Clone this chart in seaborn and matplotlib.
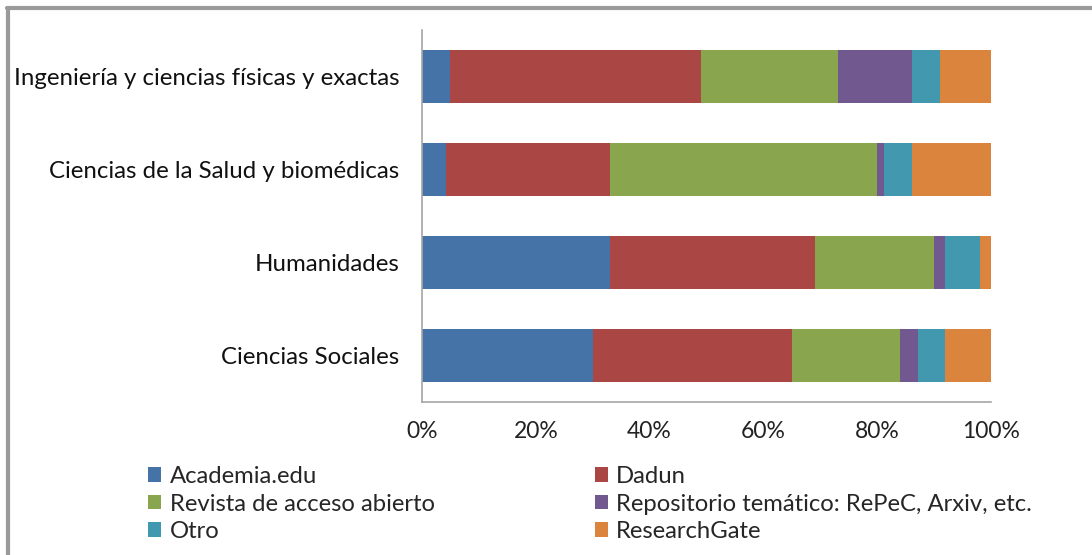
import matplotlib.pyplot as plt
import pandas as pd
import seaborn as sns
from matplotlib.patches import Patch
from matplotlib.ticker import PercentFormatter

areas = [
    "Ingeniería y ciencias físicas y exactas",
    "Ciencias de la Salud y biomédicas",
    "Humanidades",
    "Ciencias Sociales",
]
series = [
    "Academia.edu",
    "Dadun",
    "Revista de acceso abierto",
    "Repositorio temático: RePeC, Arxiv, etc.",
    "Otro",
    "ResearchGate",
]
academia = [5.0, 4.2, 33.1, 30.1]
dadun = [44.1, 28.9, 36.0, 35.0]
revista = [24.0, 46.9, 20.9, 18.9]
repositorio = [13.0, 1.2, 2.0, 3.1]
otro = [4.9, 4.9, 6.1, 4.9]
researchgate = [9.0, 13.9, 1.9, 8.0]
colors = ["#4572A7", "#AA4643", "#89A54E", "#71588F", "#4198AF", "#DB843D"]

df = pd.DataFrame(
    dict(zip(series, [academia, dadun, revista, repositorio, otro, researchgate])),
    index=areas,
)
cum = df.cumsum(axis=1)

sns.set_style("white")
plt.rcParams["font.family"] = ["Lato", "DejaVu Sans"]

fig = plt.figure(figsize=(10.92, 5.55), dpi=100)
ax = fig.add_axes([0.3864, 0.2757, 0.5211, 0.6703])

# draw cumulative totals from last to first so each segment shows
for name, col in reversed(list(zip(series, colors))):
    sns.barplot(
        x=cum[name].values, y=areas, orient="h", color=col,
        width=0.57, linewidth=0, ax=ax, saturation=1,
    )

ax.set_xlim(0, 100)
ax.set_xticks(range(0, 101, 20))
ax.xaxis.set_major_formatter(PercentFormatter(decimals=0))
ax.tick_params(axis="x", labelsize=16.5, pad=14, length=0, colors="#222222")
ax.tick_params(axis="y", labelsize=17.3, pad=16, length=0, colors="#111111")
ax.set_xlabel("")
ax.set_ylabel("")
for s in ["top", "right"]:
    ax.spines[s].set_visible(False)
for s in ["left", "bottom"]:
    ax.spines[s].set_color("#a6a6a6")
    ax.spines[s].set_linewidth(1.2)

# legend fills row by row like the original
order = [0, 2, 4, 1, 3, 5]
handles = [Patch(facecolor=colors[i], edgecolor="none") for i in order]
labels = [series[i] for i in order]
fig.legend(
    handles, labels, ncol=2, loc="upper left", bbox_to_anchor=(0.116, 0.199),
    frameon=False, fontsize=17.2, handlelength=0.55, handleheight=0.55,
    handletextpad=0.35, labelspacing=0.27, columnspacing=6.7,
)

# outer chart frame (top and left edges visible)
fig.add_artist(plt.Line2D([0.006, 1.0], [0.986, 0.986], color="#9a9a9a", lw=3, transform=fig.transFigure))
fig.add_artist(plt.Line2D([0.0075, 0.0075], [0.0, 0.986], color="#9a9a9a", lw=3, transform=fig.transFigure))

fig.savefig("out.png", dpi=100)
